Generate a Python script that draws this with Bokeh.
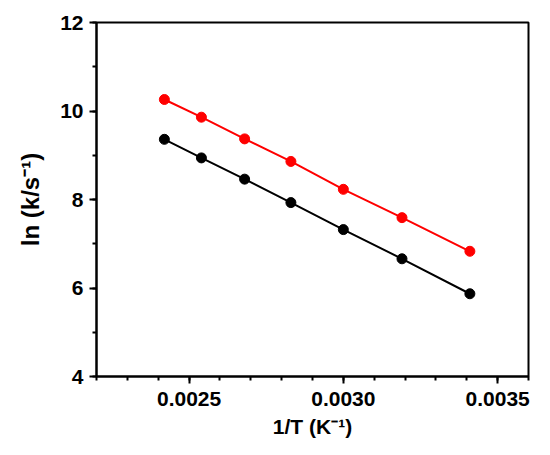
from bokeh.plotting import figure
from bokeh.models import SingleIntervalTicker, PrintfTickFormatter, Range1d
from bokeh.embed import file_html
from bokeh.resources import INLINE

inv_T = [0.00242, 0.00254, 0.00268, 0.00283, 0.00300, 0.00319, 0.00341]
ln_k_red = [10.26, 9.86, 9.37, 8.86, 8.23, 7.59, 6.83]
ln_k_black = [9.36, 8.94, 8.46, 7.93, 7.32, 6.66, 5.87]

p = figure(width=542, height=447, output_backend="svg", toolbar_location=None,
           x_range=Range1d(0.0022, 0.0036), y_range=Range1d(4, 12),
           min_border_left=96, min_border_right=14, min_border_top=22, min_border_bottom=71)
p.background_fill_color = "white"
p.border_fill_color = "white"
p.grid.visible = False
p.outline_line_color = "black"
p.outline_line_width = 2
p.outline_line_alpha = 1

p.line(inv_T, ln_k_black, line_color="black", line_width=2)
p.scatter(inv_T, ln_k_black, size=10, fill_color="black", line_color="black")
p.line(inv_T, ln_k_red, line_color="#ff0000", line_width=2)
p.scatter(inv_T, ln_k_red, size=10, fill_color="#ff0000", line_color="#ff0000")

p.xaxis.ticker = SingleIntervalTicker(interval=0.0005, num_minor_ticks=5)
p.yaxis.ticker = SingleIntervalTicker(interval=2, num_minor_ticks=2)
p.xaxis.formatter = PrintfTickFormatter(format="%.4f")

for ax in (p.xaxis[0], p.yaxis[0]):
    ax.axis_line_width = 2
    ax.axis_line_color = "black"
    ax.major_tick_line_width = 2
    ax.minor_tick_line_width = 2
    ax.major_tick_out = 7
    ax.major_tick_in = 0
    ax.minor_tick_out = 4
    ax.minor_tick_in = 0
    ax.major_label_text_font = "Liberation Sans"
    ax.major_label_text_font_style = "bold"
    ax.major_label_text_font_size = "21px"
    ax.major_label_text_color = "black"
    ax.axis_label_text_font = "Liberation Sans"
    ax.axis_label_text_font_style = "bold"
    ax.axis_label_text_color = "black"

p.xaxis.axis_label = "1/T (K\u207b\u00b9)"
p.yaxis.axis_label = "ln (k/s\u207b\u00b9)"
p.xaxis.axis_label_text_font_size = "21px"
p.yaxis.axis_label_text_font_size = "24px"
p.xaxis.major_label_standoff = 8
p.xaxis.axis_label_standoff = 6
p.yaxis.major_label_standoff = 6
p.yaxis.axis_label_standoff = 13

open("out.html", "w").write(file_html(p, INLINE))
